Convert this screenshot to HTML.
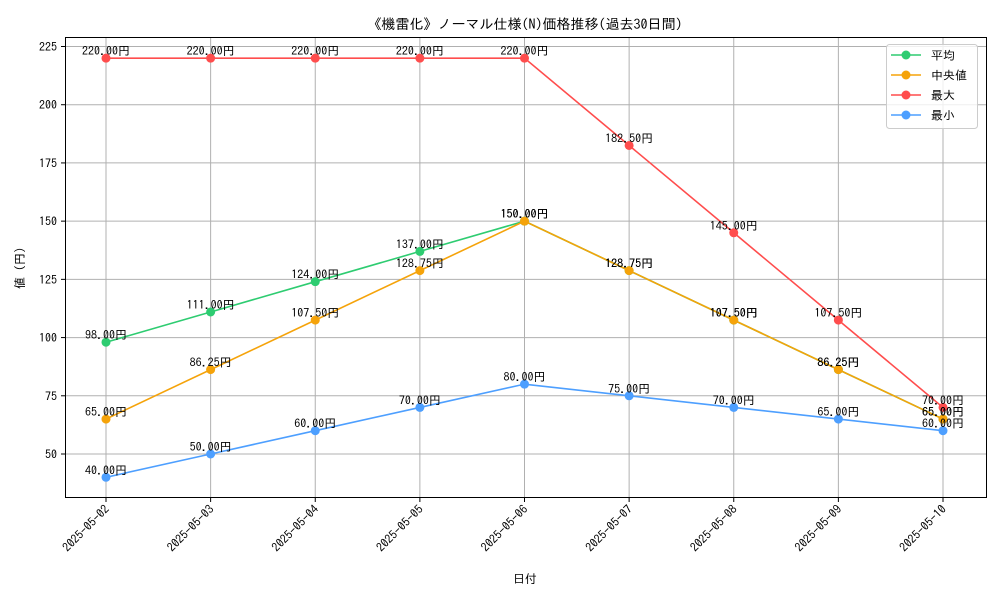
<!DOCTYPE html>
<html><head><meta charset="utf-8"><style>
body{margin:0;background:#fff}
svg{display:block;font-family:"IPAGothic","Liberation Sans","Noto Sans CJK JP",sans-serif}
</style></head><body>
<svg id="chart" width="1000" height="600" xmlns="http://www.w3.org/2000/svg">
<text x="525" y="29" font-size="14" text-anchor="middle">《機雷化》ノーマル仕様(N)価格推移(過去30日間)</text>
<text x="525" y="583" font-size="12" text-anchor="middle">日付</text>
<text x="24" y="268" font-size="12" text-anchor="middle" transform="rotate(-90 24 268)">値 (円)</text>
<g id="grid"></g><g id="series"></g><g id="labels"></g>
<rect x="65.5" y="37.5" width="921" height="460" fill="none" stroke="#000" stroke-width="1"/>
<g>
<rect x="886.5" y="44.5" width="91" height="84" rx="3" fill="#fff" fill-opacity="0.8" stroke="#ccc"/>
<g id="legend"></g>
</g>
</svg>
<script>
const categories=["2025-05-02","2025-05-03","2025-05-04","2025-05-05","2025-05-06","2025-05-07","2025-05-08","2025-05-09","2025-05-10"];
const avgValues=[98,111,124,137,150,128.75,107.5,86.25,65];
const medianValues=[65,86.25,107.5,128.75,150,128.75,107.5,86.25,65];
const maxValues=[220,220,220,220,220,182.5,145,107.5,70];
const minValues=[40,50,60,70,80,75,70,65,60];
const yTicks=[50,75,100,125,150,175,200,225];
const seriesNames=["平均","中央値","最大","最小"];
const seriesColors=["#2ecc71","#f5a30a","#ff4d4d","#4d9fff"];
const NS="http://www.w3.org/2000/svg";
const X0=106,XS=(943-106)/8,Y50=454,YPU=(454-46.5)/175;
const xs=i=>X0+i*XS, ys=v=>Y50-(v-50)*YPU;
function mk(t,a,p){const e=document.createElementNS(NS,t);for(const k in a)e.setAttribute(k,a[k]);p.appendChild(e);return e;}
const grid=document.getElementById('grid');
yTicks.forEach(v=>{const y=ys(v);
const l=mk('line',{x1:65.5,x2:986.5,y1:y,y2:y,stroke:'#b0b0b0','stroke-width':1},grid);


mk('line',{x1:61,x2:65.5,y1:y,y2:y,stroke:'#000'},grid);
const t=mk('text',{x:57,y:y+4.5,'font-size':12,'text-anchor':'end'},grid);t.textContent=v;

});
categories.forEach((c,i)=>{const x=xs(i);
const l=mk('line',{x1:x,x2:x,y1:37.5,y2:497.5,stroke:'#b0b0b0','stroke-width':1},grid);


mk('line',{x1:x,x2:x,y1:497.5,y2:502,stroke:'#000'},grid);
const t=mk('text',{x:x+4,y:510,'font-size':12,'text-anchor':'end',transform:`rotate(-45 ${x+4} 510)`},grid);t.textContent=c;

});
const sg=document.getElementById('series'),lg=document.getElementById('labels'),leg=document.getElementById('legend');
[avgValues,medianValues,maxValues,minValues].forEach((vals,s)=>{
const g=mk('g',{},sg);


mk('polyline',{points:vals.map((v,i)=>xs(i)+','+ys(v)).join(' '),fill:'none',stroke:seriesColors[s],'stroke-width':1.6},g);
vals.forEach((v,i)=>{const c=mk('circle',{cx:xs(i),cy:ys(v),r:4.5,fill:seriesColors[s]},g);


const t=mk('text',{x:xs(i),y:ys(v)-3,'font-size':12,'text-anchor':'middle'},lg);t.textContent=v.toFixed(2)+'円';

});
const ly=55+s*20;
const e=mk('g',{},leg);


mk('line',{x1:891,x2:921,y1:ly,y2:ly,stroke:seriesColors[s],'stroke-width':1.6},e);
mk('circle',{cx:906,cy:ly,r:4.5,fill:seriesColors[s]},e);
const t=mk('text',{x:931,y:ly+4.5,'font-size':12},e);t.textContent=(s==1?' ':'')+seriesNames[s];
});
</script>
</body></html>
